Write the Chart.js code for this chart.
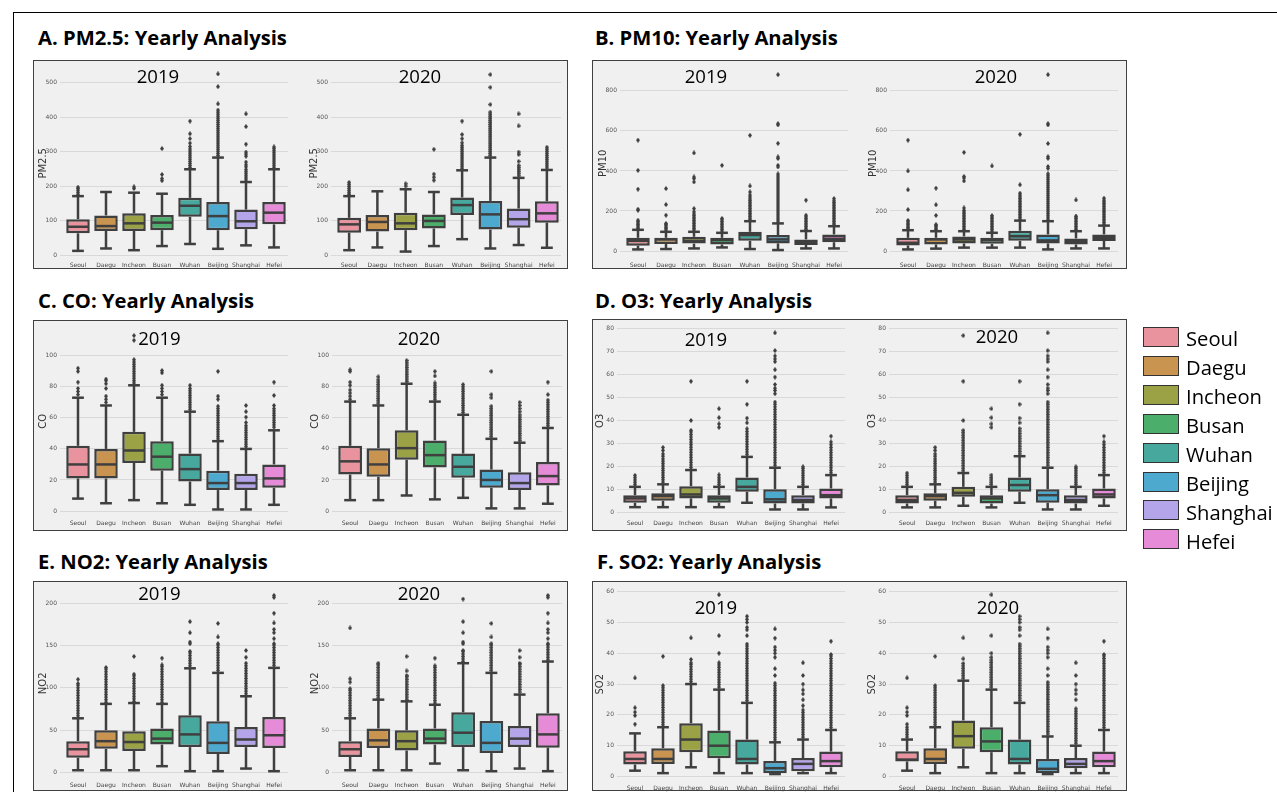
<!DOCTYPE html>
<html>
<head>
<meta charset="utf-8">
<script src="https://cdn.jsdelivr.net/npm/chart.js@4/dist/chart.umd.min.js"></script>
<style>
  body { margin: 0; width: 1277px; height: 792px; position: relative; overflow: hidden; background: #fff; }
  #frame { position: absolute; left: 13px; top: 12px; width: 1300px; height: 800px; border-left: 1px solid #000; border-top: 1px solid #000; }
  .panel { position: absolute; background: #f0f0f0; border: 1.5px solid #404040; box-sizing: border-box; }
  .txt { position: absolute; white-space: nowrap; font-family: "Open Sans"; color: #000; }
  canvas { position: absolute; }
</style>
</head>
<body>
<div id="frame"></div>
<script>
// data
const cities = ['Seoul', 'Daegu', 'Incheon', 'Busan', 'Wuhan', 'Beijing', 'Shanghai', 'Hefei'];
const years = ['2019', '2020'];
const cityColors = ['#e8939d', '#c99450', '#9ba145', '#4cae6b', '#47a89e', '#4ea9cf', '#b4a5ea', '#e68bd7'];

const pm25Ticks = [0, 100, 200, 300, 400, 500];
const pm10Ticks = [0, 200, 400, 600, 800];
const coTicks = [0, 20, 40, 60, 80, 100];
const o3Ticks = [0, 10, 20, 30, 40, 50, 60, 70, 80];
const no2Ticks = [0, 50, 100, 150, 200];
const so2Ticks = [0, 10, 20, 30, 40, 50, 60];

// each box: [whisker low, q1, median, q3, whisker high]
const pm25Box2019 = [[12, 63, 82, 104, 171], [19, 70, 84, 115, 183], [14, 70, 92, 121, 181], [26, 72, 94, 116, 178], [32, 111, 143, 166, 249], [18, 72, 113, 154, 283], [28, 75, 98, 132, 212], [22, 89, 123, 154, 249]];
const pm25Out2019 = [
  [176, 182, 188, 193, 197],
  [],
  [193, 198],
  [216, 222, 234, 309],
  [254, 260, 266, 272, 278, 284, 290, 296, 302, 308, 315, 325, 338, 352, 389],
  [289, 295, 301, 307, 313, 319, 325, 331, 337, 343, 349, 355, 361, 367, 373, 379, 385, 391, 397, 403, 409, 415, 421, 439, 489, 526],
  [218, 224, 230, 236, 242, 248, 256, 262, 270, 287, 293, 299, 322, 373, 410],
  [255, 261, 267, 273, 279, 285, 291, 297, 303, 309, 314]
];
const pm25Box2020 = [[14, 65, 89, 108, 171], [22, 68, 96, 116, 185], [10, 72, 92, 123, 191], [26, 77, 99, 118, 183], [46, 116, 145, 167, 246], [19, 74, 118, 157, 283], [29, 79, 104, 135, 224], [21, 94, 121, 156, 247]];
const pm25Out2020 = [
  [176, 181, 187, 193, 199, 205, 211],
  [],
  [200, 207],
  [217, 226, 235, 307],
  [252, 258, 264, 270, 276, 282, 288, 294, 300, 306, 312, 318, 326, 338, 350, 389],
  [289, 295, 301, 307, 313, 319, 325, 331, 337, 343, 349, 355, 361, 367, 373, 379, 385, 391, 397, 403, 409, 415, 437, 487, 524],
  [230, 236, 242, 248, 254, 260, 272, 292, 299, 375, 410],
  [253, 259, 265, 271, 277, 283, 289, 295, 301, 307, 313]
];

const pm10Box2019 = [[8, 27, 51, 66, 106], [10, 35, 58, 66, 96], [13, 37, 51, 71, 96], [18, 33, 55, 66, 91], [10, 51, 80, 96, 149], [5, 38, 58, 80, 138], [13, 30, 46, 58, 100], [13, 44, 61, 83, 124]];
const pm10Out2019 = [
  [112, 119, 126, 133, 140, 147, 154, 204, 209, 309, 403, 554],
  [105, 112, 119, 126, 133, 138, 179, 232, 312],
  [105, 113, 121, 129, 137, 145, 153, 161, 169, 177, 185, 196, 212, 345, 362, 370, 490],
  [100, 108, 116, 124, 132, 140, 148, 156, 163, 428],
  [156, 164, 172, 180, 188, 196, 204, 212, 220, 228, 236, 244, 252, 260, 270, 280, 295, 325, 578],
  [145, 155, 165, 175, 185, 195, 205, 215, 225, 235, 245, 255, 265, 275, 285, 295, 305, 315, 325, 335, 345, 355, 365, 375, 385, 420, 428, 462, 470, 538, 630, 636, 881],
  [107, 115, 123, 131, 139, 147, 155, 163, 171, 179, 254],
  [131, 139, 147, 155, 163, 171, 179, 187, 195, 203, 211, 219, 227, 235, 243, 251, 262]
];
const pm10Box2020 = [[8, 28, 41, 66, 104], [12, 33, 58, 66, 99], [17, 38, 58, 73, 99], [17, 36, 56, 66, 91], [17, 51, 74, 101, 152], [8, 38, 53, 83, 149], [13, 33, 50, 63, 99], [13, 50, 66, 83, 127]];
const pm10Out2020 = [
  [111, 118, 125, 132, 139, 146, 153, 207, 306, 400, 554],
  [107, 114, 121, 128, 132, 178, 231, 314],
  [107, 115, 123, 131, 139, 147, 155, 163, 171, 179, 187, 195, 203, 215, 350, 365, 372, 493],
  [99, 107, 115, 123, 131, 139, 147, 155, 163, 170, 177, 425],
  [159, 167, 175, 183, 191, 199, 207, 215, 223, 231, 239, 247, 255, 263, 271, 280, 289, 331, 583],
  [156, 166, 176, 186, 196, 206, 216, 226, 236, 246, 256, 266, 276, 286, 296, 306, 316, 326, 336, 346, 356, 366, 376, 386, 413, 422, 463, 471, 537, 630, 636, 881],
  [107, 115, 123, 131, 139, 147, 155, 163, 170, 174, 255],
  [134, 142, 150, 158, 166, 174, 182, 190, 198, 206, 214, 222, 230, 238, 246, 254, 264]
];

const coBox2019 = [[8, 21, 30, 42, 73], [5, 21, 30, 40, 68], [7, 31, 39, 51, 81], [5, 26, 35, 45, 73], [4, 19, 27, 37, 64], [1, 13.5, 18, 26, 45], [1, 13.5, 18, 24, 40], [4, 15, 21, 30, 52]];
const coOut2019 = [
  [75, 77, 79, 83, 90, 92],
  [70, 72, 74, 79, 82, 84, 85],
  [82.5, 84, 85.5, 87, 88.5, 90, 91.5, 93, 94.5, 96, 97.5, 110, 113],
  [75, 77, 79, 81, 89, 90.5],
  [65.5, 67, 68.5, 70, 71.5, 73, 74.5, 76, 77.5, 79, 81],
  [46.5, 48, 49.5, 51, 52.5, 54, 55.5, 57, 58.5, 60, 61.5, 63, 64.5, 66, 67.5, 72, 74, 90],
  [41.5, 43, 44.5, 46, 47.5, 49, 50.5, 52, 53.5, 55, 57, 60.5, 64, 68],
  [54, 55.5, 57, 58.5, 60, 61.5, 63, 64.5, 66, 68, 74.5, 83]
];
const coBox2020 = [[7, 23.5, 32, 42, 70.5], [7, 22, 30, 40.5, 68], [10, 33, 40.5, 52, 82], [7.5, 28, 36, 45.5, 70.5], [8.5, 21.5, 28.5, 37, 62], [1.7, 15, 20, 26.7, 46.5], [1.7, 13.5, 18, 25, 44], [4.7, 16.5, 22.5, 31.5, 53.5]];
const coOut2020 = [
  [72, 74, 76, 78, 81, 83, 90, 91],
  [69.5, 71, 72.5, 74, 75.5, 77, 78.5, 80, 81.5, 83, 84.5, 86.5],
  [83.5, 85, 86.5, 88, 89.5, 91, 92.5, 94, 95.5, 97],
  [72, 73.5, 75, 76.5, 78, 79.5, 81, 82.5, 87, 90],
  [63.5, 65, 66.5, 68, 69.5, 71, 72.5, 74, 75.5, 77, 78.5, 80, 81.5],
  [48, 49.5, 51, 52.5, 54, 55.5, 57, 58.5, 60, 61.5, 63, 64.5, 66, 67.5, 73, 75, 90],
  [45.5, 47, 48.5, 50, 51.5, 53, 54.5, 56, 57.5, 59, 60.5, 62, 64, 66, 68, 70],
  [55, 56.5, 58, 59.5, 61, 62.5, 64, 65.5, 67, 68.5, 70, 71.5, 75, 83]
];

const o3Box2019 = [[2.4, 4.3, 6.2, 7.6, 11.2], [2.4, 5.2, 7.2, 8.4, 12.3], [2.4, 6.2, 7.9, 11.5, 18.5], [2.4, 4.3, 6.2, 7.6, 11.2], [4.3, 9.1, 11.2, 15.3, 24.2], [1.4, 4, 5.8, 10.2, 19.5], [1.4, 4, 5.5, 7.6, 11.2], [2.3, 6.2, 7.6, 10.5, 16.3]];
const o3Out2019 = [
  [12.2, 13.2, 14.2, 15.2, 16.2],
  [13.3, 14.3, 15.3, 16.3, 17.3, 18.3, 19.3, 20.3, 21.3, 22.3, 23.3, 24.5, 25.5, 27, 28.3],
  [19.6, 20.7, 21.8, 22.9, 24, 25.1, 26.2, 27.3, 28.4, 29.5, 30.6, 31.7, 32.8, 33.9, 35, 35.7, 40, 57],
  [12.2, 13.2, 14.2, 15.2, 16.4, 37, 38.5, 41.2, 45.1],
  [25.3, 26.4, 27.5, 28.6, 29.7, 30.8, 31.9, 33, 34.1, 35.2, 36.4, 39, 41, 47, 57],
  [20.6, 21.7, 22.8, 23.9, 25, 26.1, 27.2, 28.3, 29.4, 30.5, 31.6, 32.7, 33.8, 34.9, 36, 37.1, 38.2, 39.3, 40.4, 41.5, 42.6, 43.7, 44.8, 45.9, 47, 48, 51.6, 53, 54, 55.6, 58.8, 62, 65.5, 66.7, 68, 70.3, 78],
  [12.2, 13.2, 14.2, 15.2, 16.2, 17.2, 18.2, 19.2, 19.9],
  [17.3, 18.4, 19.5, 20.6, 21.7, 22.8, 23.9, 25, 26.1, 27.2, 28.3, 29.5, 30.7, 33.2]
];
const o3Box2020 = [[2.3, 4, 5.5, 7.6, 11.2], [2.3, 5.2, 7.2, 8.4, 12.3], [3, 6.9, 8.6, 11.2, 17.2], [2.3, 4, 6.2, 7.6, 11.2], [4.3, 9.1, 12, 15.3, 24.5], [1.4, 4.3, 7.6, 10.2, 19.5], [1.4, 4, 5.5, 7.6, 11.2], [3, 6.2, 7.9, 10.5, 16.3]];
const o3Out2020 = [
  [12.2, 13.2, 14.2, 15.2, 16.2, 17.2],
  [13.3, 14.3, 15.3, 16.3, 17.3, 18.3, 19.3, 20.3, 21.3, 22.3, 23.3, 24.5, 25.5, 27, 28.3],
  [18.2, 19.3, 20.4, 21.5, 22.6, 23.7, 24.8, 25.9, 27, 28.1, 29.2, 30.3, 31.4, 32.5, 33.6, 34.7, 35.7, 40, 57, 76.8],
  [12.2, 13.2, 14.2, 15.2, 16.3, 37, 38.5, 41.2, 45.1],
  [25.5, 26.6, 27.7, 28.8, 29.9, 31, 32.1, 33.2, 34.3, 35.4, 36.5, 39, 41, 47, 57],
  [20.6, 21.7, 22.8, 23.9, 25, 26.1, 27.2, 28.3, 29.4, 30.5, 31.6, 32.7, 33.8, 34.9, 36, 37.1, 38.2, 39.3, 40.4, 41.5, 42.6, 43.7, 44.8, 45.9, 47, 48, 51.6, 53, 54, 55.6, 58.8, 62, 65.5, 66.7, 68, 70.3, 78],
  [12.2, 13.2, 14.2, 15.2, 16.2, 17.2, 18.2, 19.2, 19.9],
  [17.3, 18.4, 19.5, 20.6, 21.7, 22.8, 23.9, 25, 26.1, 27.2, 28.3, 29.5, 30.7, 33.2]
];

const no2Box2019 = [[2.7, 17.6, 27.5, 37, 64], [2.7, 28, 37, 50, 81], [2.7, 25.5, 36, 48.6, 82], [7.5, 33, 40, 52, 81], [1.6, 30, 45, 67.5, 123], [1.6, 22, 35, 60.4, 117.6], [4.7, 30, 39, 53.7, 90], [1.6, 29, 44, 65.5, 123.5]];
const no2Out2019 = [
  [67, 70, 73, 76, 79, 82, 85, 88, 91, 94, 97, 100, 103, 105, 110],
  [83, 86, 89, 92, 95, 98, 101, 104, 107, 110, 113, 116, 119, 122, 124],
  [84, 87, 90, 93, 96, 99, 102, 105, 108, 111, 114, 116, 137],
  [83, 86, 89, 92, 95, 98, 101, 104, 107, 110, 113, 116, 119, 122, 125, 127, 135],
  [126, 129, 132, 135, 138, 141, 143, 152, 154, 165, 178],
  [120.5, 123.5, 126.5, 129.5, 132.5, 135.5, 138.5, 141.5, 144.5, 147.5, 150.5, 152, 160, 176],
  [93, 96, 99, 102, 105, 108, 111, 114, 117, 120, 123, 126, 129, 136, 144],
  [126.5, 129.5, 132.5, 135.5, 138.5, 141.5, 144.5, 147.5, 150.5, 152, 158, 165, 169, 176.5, 188, 206.7, 209]
];
const no2Box2020 = [[2.7, 18.4, 27.5, 37, 64], [2.7, 29, 38, 52, 86], [2.7, 26, 37, 50, 84], [10.6, 33, 40, 52, 80], [2.7, 30, 47, 71, 129], [1.6, 23, 35, 60.8, 117.6], [4.7, 30, 40, 55, 92], [1.6, 29.4, 45, 70, 131]];
const no2Out2020 = [
  [67, 70, 73, 76, 79, 82, 85, 88, 91, 94, 97, 99, 106.7, 110.6, 170.6],
  [88, 91, 94, 97, 100, 103, 106, 109, 112, 115, 118, 121, 124, 127, 129],
  [86, 89, 92, 95, 98, 101, 104, 107, 110, 113, 114.5, 120, 137],
  [82, 85, 88, 91, 94, 97, 100, 103, 106, 109, 112, 115, 118, 121, 124, 126, 135],
  [131, 134, 137, 140, 143, 144, 152, 154, 165, 178, 204.7],
  [120.5, 123.5, 126.5, 129.5, 132.5, 135.5, 138.5, 141.5, 144.5, 147.5, 150.5, 152, 160, 176],
  [95, 98, 101, 104, 107, 110, 113, 116, 119, 122, 125, 128, 129, 136, 144],
  [133, 136, 139, 142, 145, 148, 151, 152, 158, 165, 169, 176.5, 188, 206.7, 209]
];

const so2Box2019 = [[1.9, 3.9, 5.7, 8.2, 14], [1.1, 4.1, 5.7, 9.2, 16], [3, 7.9, 12, 17.3, 30], [1.1, 5.9, 10, 14.9, 28.2], [1.1, 3.9, 5.7, 12, 23.9], [0.8, 1.1, 2.7, 5, 11.1], [1.1, 1.7, 4.1, 6, 12], [1.1, 3, 5, 8.1, 15.1]];
const so2Out2019 = [
  [17, 19.8, 20.9, 22.3, 32],
  [16.8, 17.6, 18.4, 19.2, 20, 20.8, 21.6, 22.4, 23.2, 24, 24.8, 25.6, 26.4, 27.2, 28, 28.8, 29.5, 39],
  [30.8, 31.6, 32.4, 33.2, 34, 34.8, 35.6, 36.4, 36.9, 38, 45],
  [29, 29.8, 30.6, 31.4, 32.2, 33, 33.8, 34.6, 35.4, 36.2, 36.9, 40, 45.7, 59],
  [24.7, 25.5, 26.3, 27.1, 27.9, 28.7, 29.5, 30.3, 31.1, 31.9, 32.7, 33.5, 34.3, 35.1, 35.9, 36.7, 37.5, 38.3, 39.1, 39.9, 40.7, 41.5, 42.3, 43, 45.7, 47.6, 48.4, 50, 51, 52],
  [11.9, 12.7, 13.5, 14.3, 15.1, 15.9, 16.7, 17.5, 18.3, 19.1, 19.9, 20.7, 21.5, 22.3, 23.1, 23.9, 24.7, 25.5, 26.3, 27.1, 27.9, 28.7, 29.5, 30.3, 32.8, 35, 38.7, 40, 41, 42, 44.9, 47.9],
  [12.8, 13.6, 14.4, 15.2, 16, 16.8, 17.6, 18.4, 19.2, 20, 20.8, 21.6, 23, 24.9, 26.8, 28.1, 30, 32.8, 36.9],
  [15.9, 16.7, 17.5, 18.3, 19.1, 19.9, 20.7, 21.5, 22.3, 23.1, 23.9, 24.7, 25.5, 26.3, 27.1, 27.9, 28.7, 29.5, 30.3, 31.1, 31.9, 32.7, 33.5, 34.3, 35.1, 35.9, 36.7, 37.5, 38.3, 39.1, 39.6, 43.9]
];
const so2Box2020 = [[1.9, 4.9, 5.5, 8.2, 12], [1.1, 4.1, 5.7, 9.2, 16], [3, 9, 13.1, 18.2, 31.1], [1.1, 7.9, 11.4, 16, 28.2], [1.1, 3.9, 5.7, 12, 23.9], [0.8, 1.1, 2.5, 5.7, 13], [1.1, 2.7, 4.1, 6, 10], [1.1, 3, 5, 8.1, 15.1]];
const so2Out2020 = [
  [12.8, 13.6, 14.4, 15.2, 16, 17, 19.8, 20.9, 22.3, 32],
  [16.8, 17.6, 18.4, 19.2, 20, 20.8, 21.6, 22.4, 23.2, 24, 24.8, 25.6, 26.4, 27.2, 28, 28.8, 29.5, 39],
  [31.9, 32.7, 33.5, 34.3, 35.1, 35.9, 36.7, 38.2, 45],
  [29, 29.8, 30.6, 31.4, 32.2, 33, 33.8, 34.6, 35.4, 36.2, 37, 37.8, 38.7, 40, 45.7, 59],
  [24.7, 25.5, 26.3, 27.1, 27.9, 28.7, 29.5, 30.3, 31.1, 31.9, 32.7, 33.5, 34.3, 35.1, 35.9, 36.7, 37.5, 38.3, 39.1, 39.9, 40.7, 41.5, 42.3, 43, 45.7, 47.6, 48.4, 50, 51, 52],
  [13.8, 14.6, 15.4, 16.2, 17, 17.8, 18.6, 19.4, 20.2, 21, 21.8, 22.6, 23.4, 24.2, 25, 25.8, 26.6, 27.4, 28.2, 29, 29.8, 30.6, 32.8, 35, 38.7, 40, 41, 42, 44.9, 47.9],
  [10.8, 11.6, 12.4, 13.2, 14, 14.8, 15.6, 16.4, 17.2, 18, 18.8, 19.6, 20.4, 21.2, 22, 24.9, 26.8, 28.1, 30, 32.8, 36.9],
  [15.9, 16.7, 17.5, 18.3, 19.1, 19.9, 20.7, 21.5, 22.3, 23.1, 23.9, 24.7, 25.5, 26.3, 27.1, 27.9, 28.7, 29.5, 30.3, 31.1, 31.9, 32.7, 33.5, 34.3, 35.1, 35.9, 36.7, 37.5, 38.3, 39.1, 39.6, 43.9]
];

// page layout (pixels)
const panels = [
  { title: 'A. PM2.5: Yearly Analysis', yLabel: 'PM2.5', ticks: pm25Ticks, min: -14.5, max: 547.2,
    frame: [33, 60, 568, 269], titleAt: [38, 45], plotTop: 66, plotBottom: 260,
    plots: [
      { boxes: pm25Box2019, out: pm25Out2019, year: years[0], left: 64, right: 290, yearAt: [158, 77] },
      { boxes: pm25Box2020, out: pm25Out2020, year: years[1], left: 334.7, right: 563, yearAt: [420, 77] }] },
  { title: 'B. PM10: Yearly Analysis', yLabel: 'PM10', ticks: pm10Ticks, min: -44.8, max: 921.3,
    frame: [592, 60, 1127, 269], titleAt: [595, 45], plotTop: 66, plotBottom: 260,
    plots: [
      { boxes: pm10Box2019, out: pm10Out2019, year: years[0], left: 623.6, right: 849.8, yearAt: [706, 77] },
      { boxes: pm10Box2020, out: pm10Out2020, year: years[1], left: 893.6, right: 1119.8, yearAt: [996, 77] }] },
  { title: 'C. CO: Yearly Analysis', yLabel: 'CO', ticks: coTicks, min: -4.5, max: 120.1,
    frame: [33, 320, 568, 531], titleAt: [38, 308], plotTop: 324, plotBottom: 518,
    plots: [
      { boxes: coBox2019, out: coOut2019, year: years[0], left: 64.2, right: 289.8, yearAt: [159.5, 338.5] },
      { boxes: coBox2020, out: coOut2020, year: years[1], left: 335.7, right: 564.3, yearAt: [419, 339] }] },
  { title: 'D. O3: Yearly Analysis', yLabel: 'O3', ticks: o3Ticks, min: -2.3, max: 82,
    frame: [592, 319, 1127, 531], titleAt: [595, 308], plotTop: 323, plotBottom: 518,
    plots: [
      { boxes: o3Box2019, out: o3Out2019, year: years[0], left: 620.9, right: 846.8, yearAt: [706, 340] },
      { boxes: o3Box2020, out: o3Out2020, year: years[1], left: 892.5, right: 1120.2, yearAt: [997, 337] }] },
  { title: 'E. NO2: Yearly Analysis', yLabel: 'NO2', ticks: no2Ticks, min: -8.8, max: 219.4,
    frame: [33, 581, 568, 791], titleAt: [38, 569], plotTop: 586, plotBottom: 780,
    plots: [
      { boxes: no2Box2019, out: no2Out2019, year: years[0], left: 64.2, right: 290.1, yearAt: [159.5, 594] },
      { boxes: no2Box2020, out: no2Out2020, year: years[1], left: 335.8, right: 563.5, yearAt: [419, 593.5] }] },
  { title: 'F. SO2: Yearly Analysis', yLabel: 'SO2', ticks: so2Ticks, min: -2.1, max: 61.95,
    frame: [592, 581, 1127, 791], titleAt: [597, 569], plotTop: 585, plotBottom: 782.5,
    plots: [
      { boxes: so2Box2019, out: so2Out2019, year: years[0], left: 621, right: 847, yearAt: [716, 608] },
      { boxes: so2Box2020, out: so2Out2020, year: years[1], left: 892.5, right: 1120, yearAt: [998, 608] }] }
];

const LINE = '#3f3f3f';
const AXIS_W = 30, XAXIS_H = 14, PAD_TOP = 6;

// thin diamond used for the fliers
const flier = document.createElement('canvas');
flier.width = 4; flier.height = 5;
const fctx = flier.getContext('2d');
fctx.fillStyle = LINE;
fctx.beginPath();
fctx.moveTo(2, 0); fctx.lineTo(4, 2.5); fctx.lineTo(2, 5); fctx.lineTo(0, 2.5);
fctx.closePath(); fctx.fill();

// whiskers, caps and medians drawn on the chart's own scales
const boxLines = {
  id: 'boxLines',
  afterDatasetsDraw(chart, args, opts) {
    const { ctx } = chart;
    const y = chart.scales.y;
    const meta = chart.getDatasetMeta(0);
    const seg = (x1, y1, x2, y2) => { ctx.beginPath(); ctx.moveTo(x1, y1); ctx.lineTo(x2, y2); ctx.stroke(); };
    ctx.save();
    ctx.strokeStyle = LINE;
    ctx.lineWidth = opts.lineWidth;
    opts.boxes.forEach((b, i) => {
      const bar = meta.data[i];
      const cx = bar.x, half = bar.width / 2;
      const [lo, q1, med, q3, hi] = b.map(v => y.getPixelForValue(v));
      seg(cx, q3, cx, hi);
      seg(cx, q1, cx, lo);
      seg(cx - half / 2, hi, cx + half / 2, hi);
      seg(cx - half / 2, lo, cx + half / 2, lo);
      seg(cx - half + 1, med, cx + half - 1, med);
    });
    ctx.restore();
  }
};

function fitSize(text, weight, target) {
  const c = document.createElement('canvas').getContext('2d');
  c.font = `${weight} 100px "Open Sans"`;
  return 100 * target / c.measureText(text).width;
}

// Open Sans: baseline sits 0.888em below the top of a 1em line box
function addText(text, x, baseline, size, weight, centered) {
  const d = document.createElement('div');
  d.className = 'txt';
  d.textContent = text;
  d.style.fontWeight = weight;
  d.style.fontSize = size + 'px';
  d.style.lineHeight = size + 'px';
  d.style.top = (baseline - 0.888 * size) + 'px';
  d.style.left = x + 'px';
  if (centered) d.style.transform = 'translateX(-50%)';
  document.body.appendChild(d);
}

function drawPlot(panel, sp) {
  const cl = Math.round(sp.left - AXIS_W);
  const ct = Math.round(panel.plotTop - PAD_TOP);
  const cw = Math.round(sp.right + 2) - cl;
  const ch = Math.round(panel.plotBottom + XAXIS_H) - ct;
  const canvas = document.createElement('canvas');
  canvas.width = cw; canvas.height = ch;
  canvas.style.left = cl + 'px'; canvas.style.top = ct + 'px';
  canvas.style.width = cw + 'px'; canvas.style.height = ch + 'px';
  document.body.appendChild(canvas);

  const points = sp.out.flatMap((vals, i) => vals.map(v => ({ x: cities[i], y: v })));

  new Chart(canvas, {
    type: 'bar',
    data: {
      labels: cities,
      datasets: [
        {
          data: sp.boxes.map(b => [b[1], b[3]]),
          backgroundColor: cityColors,
          borderColor: LINE,
          borderWidth: 2.5,
          borderSkipped: false,
          barPercentage: 0.84,
          categoryPercentage: 1,
          order: 1
        },
        {
          type: 'line',
          data: points,
          showLine: false,
          pointStyle: flier,
          pointRadius: 2,
          pointBorderWidth: 0,
          order: 0
        }
      ]
    },
    options: {
      responsive: false,
      animation: false,
      events: [],
      layout: { padding: { top: PAD_TOP, right: 2, left: 0, bottom: 0 } },
      plugins: {
        legend: { display: false },
        tooltip: { enabled: false },
        boxLines: { boxes: sp.boxes, lineWidth: 2.5 }
      },
      scales: {
        x: {
          grid: { display: false, drawTicks: false },
          border: { display: false },
          ticks: { font: { family: 'DejaVu Sans', size: 6 }, color: '#444', padding: 2, maxRotation: 0, autoSkip: false },
          afterFit: s => { s.height = XAXIS_H; }
        },
        y: {
          min: panel.min,
          max: panel.max,
          grid: { color: '#d9d9d9', lineWidth: 1, tickLength: 4 },
          border: { display: false },
          ticks: { font: { family: 'DejaVu Sans', size: 6 }, color: '#555', padding: 3 },
          afterBuildTicks: s => { s.ticks = panel.ticks.map(v => ({ value: v })); },
          title: { display: true, text: panel.yLabel, font: { family: 'DejaVu Sans', size: 10 }, color: '#333', padding: { top: 3, bottom: 0 } },
          afterFit: s => { s.width = AXIS_W; }
        }
      }
    },
    plugins: [boxLines]
  });
}

const titleSize = fitSize('A. PM2.5: Yearly Analysis', 700, 249);
const yearSize = fitSize('2019', 400, 42.5);
const legendSize = fitSize('Incheon', 400, 76);

panels.forEach(p => {
  const [x0, y0, x1, y1] = p.frame;
  const d = document.createElement('div');
  d.className = 'panel';
  d.style.cssText = `left:${x0}px;top:${y0}px;width:${x1 - x0}px;height:${y1 - y0}px`;
  document.body.appendChild(d);
});
panels.forEach(p => p.plots.forEach(sp => drawPlot(p, sp)));
panels.forEach(p => {
  addText(p.title, p.titleAt[0], p.titleAt[1], titleSize, 700, false);
  p.plots.forEach(sp => addText(sp.year, sp.yearAt[0], sp.yearAt[1] + 0.357 * yearSize, yearSize, 400, true));
});

// legend
cities.forEach((c, i) => {
  const cy = 337 + 28.9 * i;
  const sw = document.createElement('div');
  sw.style.cssText = `position:absolute;left:1143px;top:${cy - 10}px;width:36px;height:20px;box-sizing:border-box;border:1.5px solid #333;background:${cityColors[i]}`;
  document.body.appendChild(sw);
  addText(c, 1186, cy + 2 + 0.357 * legendSize, legendSize, 400, false);
});
</script>
</body>
</html>
